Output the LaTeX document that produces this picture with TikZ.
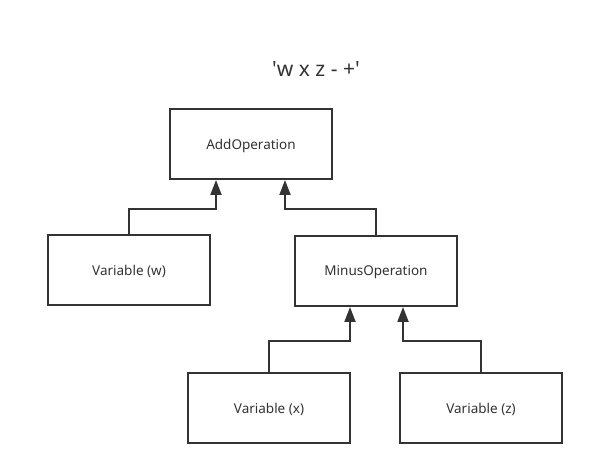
\documentclass[tikz,border=0pt]{standalone}
\usepackage{fontspec}
\setmainfont{Noto Sans}
\usetikzlibrary{arrows.meta}
\definecolor{ink}{HTML}{333333}
\tikzset{
  box/.style={draw=ink, line width=2pt, rectangle, minimum width=162pt, minimum height=70pt,
    inner sep=0pt, text depth=0pt, font=\fontsize{13.5}{15}\selectfont, text=ink},
  conn/.style={draw=ink, line width=2pt, -{Triangle[width=11pt,length=15pt]}},
}
\begin{document}
\begin{tikzpicture}[x=1pt,y=1pt]
  \fill[white] (0,0) rectangle (594,476);
  \useasboundingbox (0,0) rectangle (594,476);

  \node[text=ink, text depth=0pt, font=\fontsize{21}{24}\selectfont] (title) at (316,407)
    {\textquotesingle w x z - +\textquotesingle};

  \node[box] (add)   at (251,332)   {AddOperation};
  \node[box] (w)     at (129,205.5) {Variable (w)};
  \node[box] (minus) at (376,205)   {MinusOperation};
  \node[box] (x)     at (269,67.5)  {Variable (x)};
  \node[box] (z)     at (481,67.5)  {Variable (z)};

  % arrow end points on the bottom edges of the parents
  \coordinate (addL)   at ([xshift=-35pt]add.south);
  \coordinate (addR)   at ([xshift=34pt]add.south);
  \coordinate (minusL) at ([xshift=-26pt]minus.south);
  \coordinate (minusR) at ([xshift=27pt]minus.south);

  \draw[conn] (w.north)     |- ([yshift=-29pt]addL)   -- (addL);
  \draw[conn] (minus.north) |- ([yshift=-29pt]addR)   -- (addR);
  \draw[conn] (x.north)     |- ([yshift=-34pt]minusL) -- (minusL);
  \draw[conn] (z.north)     |- ([yshift=-34pt]minusR) -- (minusR);
\end{tikzpicture}
\end{document}
